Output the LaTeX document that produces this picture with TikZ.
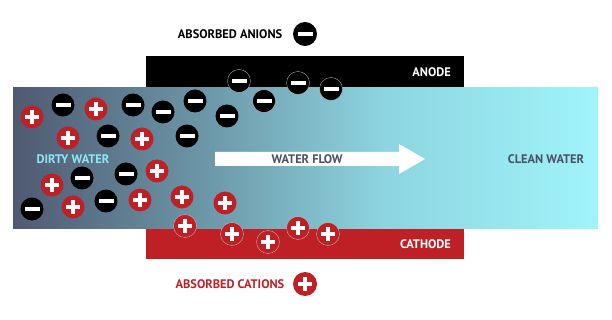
\documentclass[tikz,border=0pt]{standalone}
\usepackage{fontspec}
\setmainfont{PT Sans}
\usetikzlibrary{positioning}
\definecolor{CellRed}{RGB}{190,32,38}
\definecolor{FlowText}{RGB}{74,80,104}
\definecolor{DirtyText}{RGB}{142,232,242}
\definecolor{WaterDirty}{RGB}{79,90,114}
\definecolor{WaterMid}{RGB}{108,151,168}
\definecolor{WaterLight}{RGB}{141,213,224}
\definecolor{WaterClean}{RGB}{160,244,250}
\pgfdeclarehorizontalshading{waterflow}{100bp}{color(0bp)=(WaterDirty); color(25bp)=(WaterDirty); color(41.4bp)=(WaterMid); color(56.8bp)=(WaterLight); color(75bp)=(WaterClean); color(100bp)=(WaterClean)}
\tikzset{
  ion/.style={circle, inner sep=0pt, minimum size=23pt},
  anion/.style={ion, fill=black, path picture={
      \fill[white] ([xshift=-7.5pt,yshift=-2pt]path picture bounding box.center) rectangle ([xshift=7.5pt,yshift=2pt]path picture bounding box.center);}},
  cation/.style={ion, fill=CellRed, path picture={
      \fill[white] ([xshift=-7pt,yshift=-2.2pt]path picture bounding box.center) rectangle ([xshift=7pt,yshift=2.2pt]path picture bounding box.center);
      \fill[white] ([xshift=-2.2pt,yshift=-7pt]path picture bounding box.center) rectangle ([xshift=2.2pt,yshift=7pt]path picture bounding box.center);}},
  edged/.style={draw=white!55!gray, line width=0.3pt},
  electrode/.style={anchor=north west, inner sep=0pt, minimum width=318pt, minimum height=31pt},
}

\begin{document}
\begin{tikzpicture}[x=1pt, y=-1pt, font=\bfseries\fontsize{12.4}{14}\selectfont]
  \useasboundingbox (0,0) rectangle (612,320);
  % electrodes and water
  \node[electrode, fill=black] (anode) at (146,56) {};
  \node[electrode, fill=CellRed] (cathode) at (146,228) {};
  \node[anchor=north west, inner sep=0pt, minimum width=585pt, minimum height=141pt, shading=waterflow] (water) at (13,87) {};
  \node[anchor=east, text=white] at ([xshift=-10pt]anode.east) {ANODE};
  \node[anchor=east, text=white] at ([xshift=-10pt]cathode.east) {CATHODE};
  % flow arrow
  \fill[white] (215,152) -- (399,152) -- (399,144) -- (425,159) -- (399,174) -- (399,166) -- (215,166) -- cycle;
  \node[text=FlowText] (flow) at (307,159) {WATER FLOW};
  \node[text=DirtyText] (dirty) at (73,159) {DIRTY WATER};
  \node[text=FlowText] (clean) at (546,159) {CLEAN WATER};
  % ions in the water
  \foreach \x/\y [count=\i] in {63/105, 133/105, 163/112, 195/101, 227/116, 108/136, 187/136, 82/178, 126/174, 32/209, 106/201}
    \node[anion] (an\i) at (\x,\y) {};
  \foreach \x/\y [count=\i] in {32/117, 96/109, 68/138, 142/139, 157/171, 52/185, 73/207, 140/200, 182/197, 225/203}
    \node[cation] (cat\i) at (\x,\y) {};
  % ions held at the electrodes
  \foreach \x/\y [count=\i] in {239/81, 264/101, 298/83, 331/89}
    \node[anion, edged] (held\i) at (\x,\y) {};
  \foreach \x/\y [count=\i] in {185/226, 232/234, 268/242, 298/228, 328/234}
    \node[cation, edged] (bound\i) at (\x,\y) {};
  % key
  \node[anion, minimum size=24pt] (anionkey) at (305,34) {};
  \node[left=7pt of anionkey] {ABSORBED ANIONS};
  \node[cation, minimum size=24pt] (cationkey) at (305,284) {};
  \node[left=5pt of cationkey, text=CellRed] {ABSORBED CATIONS};
\end{tikzpicture}
\end{document}
